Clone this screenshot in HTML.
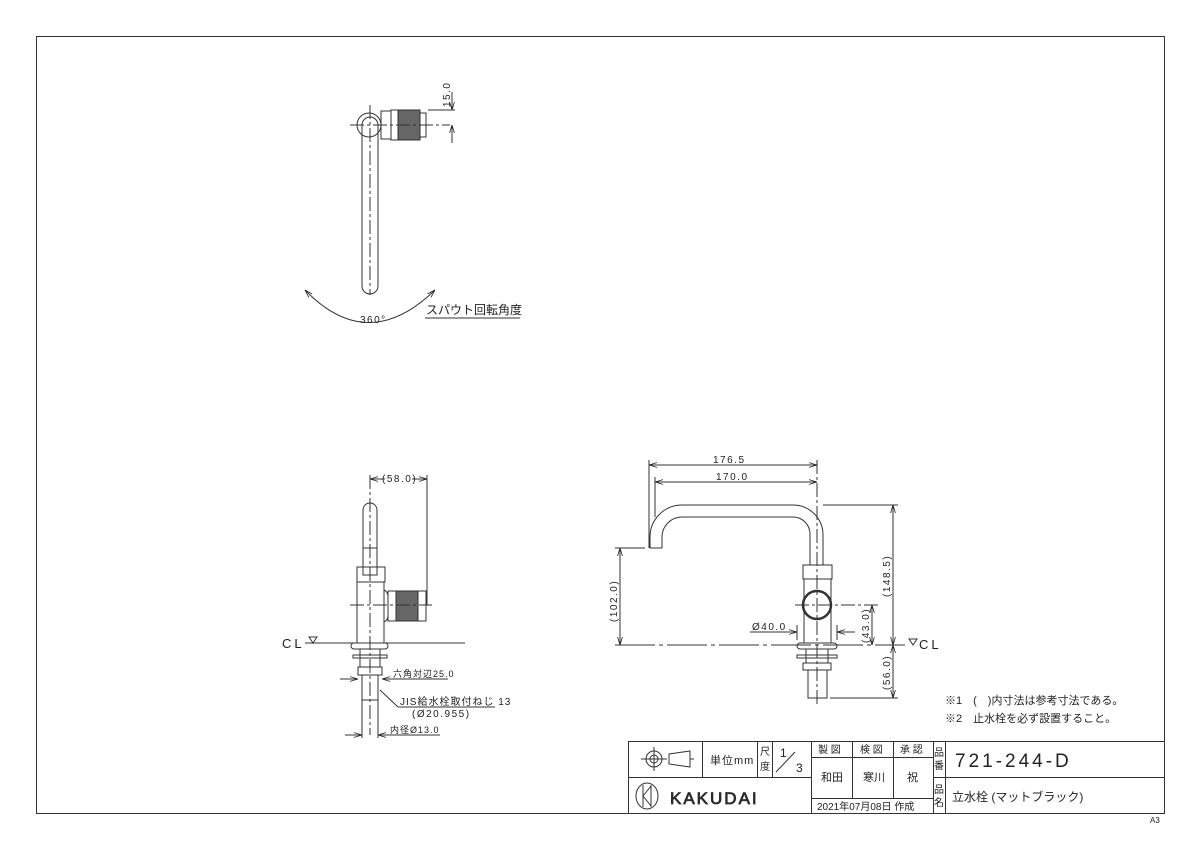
<!DOCTYPE html>
<html><head><meta charset="utf-8"><style>
body{margin:0;background:#fff}
svg{display:block}
text{font-family:"Liberation Sans","Noto Sans CJK JP",sans-serif;fill:#222}
.d{letter-spacing:1.5px}
</style></head><body>
<svg width="1200" height="849" viewBox="0 0 1200 849" xmlns="http://www.w3.org/2000/svg">
<defs>
<marker id="a" viewBox="0 0 10 10" refX="10" refY="5" markerWidth="8" markerHeight="8" orient="auto-start-reverse"><path d="M0,2 L10,5 L0,8" fill="none" stroke="#222" stroke-width="1"/></marker>
</defs>
<g fill="none" stroke="#333" stroke-width="1">
<rect x="36.5" y="36.5" width="1128" height="777"/>

<!-- TOP VIEW -->
<circle cx="369" cy="125" r="12"/>
<path d="M362,125 V286 A8,8 0 0 0 378,286 V125 A8,8 0 0 0 362,125"/>
<rect x="381" y="111" width="10" height="28"/>
<rect x="398" y="110" width="22" height="30" fill="#666"/>
<rect x="391" y="110" width="7" height="30"/>
<rect x="420" y="113" width="6" height="24"/>
<line x1="350" y1="125" x2="450" y2="125" stroke-dasharray="14,3,3,3"/>
<line x1="370" y1="105" x2="370" y2="295" stroke-dasharray="14,3,3,3"/>
<line x1="428" y1="110" x2="455" y2="110"/>
<line x1="452" y1="92" x2="452" y2="110" marker-end="url(#a)"/>
<line x1="452" y1="143" x2="452" y2="125" marker-end="url(#a)"/>
<path d="M305,290 Q368,355 435,290" marker-start="url(#a)" marker-end="url(#a)"/>
<line x1="425" y1="318" x2="520" y2="318"/>

<!-- SIDE VIEW -->
<path d="M363,567 V510 A7,7 0 0 1 377,510 V567"/>
<line x1="363" y1="548" x2="377" y2="548"/>
<rect x="357" y="567" width="28" height="15"/>
<rect x="363" y="567" width="14" height="8"/>
<path d="M357,582 V643 M384,582 V643"/>
<path d="M384,590 Q388,592 388,596 V616 Q388,620 384,622"/>
<rect x="388" y="591" width="8" height="30"/>
<rect x="396" y="591" width="22" height="30" fill="#666"/>
<rect x="418" y="591" width="8" height="30"/>
<line x1="350" y1="605" x2="432" y2="605" stroke-dasharray="14,3,3,3"/>
<line x1="370" y1="475" x2="370" y2="735" stroke-dasharray="14,3,3,3"/>
<line x1="305" y1="643" x2="465" y2="643"/>
<rect x="351" y="643" width="37" height="6" rx="3"/>
<rect x="360" y="649" width="20" height="18"/>
<rect x="353" y="655" width="34" height="3"/>
<rect x="358" y="667" width="24" height="8"/>
<rect x="362" y="675" width="16" height="25"/>
<line x1="427" y1="475" x2="427" y2="605"/>
<line x1="385" y1="479" x2="370" y2="479" marker-end="url(#a)"/>
<line x1="412" y1="479" x2="427" y2="479" marker-end="url(#a)"/>
<line x1="340" y1="679" x2="358" y2="679" marker-end="url(#a)"/>
<line x1="400" y1="679" x2="382" y2="679" marker-end="url(#a)"/>
<line x1="382" y1="679" x2="448" y2="679"/>
<path d="M398,707 L380,690 M398,707 L495,707"/>
<line x1="362" y1="700" x2="362" y2="738"/>
<line x1="378" y1="700" x2="378" y2="738"/>
<line x1="345" y1="735" x2="362" y2="735" marker-end="url(#a)"/>
<line x1="395" y1="735" x2="378" y2="735" marker-end="url(#a)"/>
<line x1="378" y1="735" x2="440" y2="735"/>
<path d="M309,637 L317,637 L313,643 Z"/>

<!-- FRONT VIEW -->
<path d="M650,548 V537 A32,32 0 0 1 682,505 H793 A30,30 0 0 1 823,535 V565"/>
<path d="M662,548 V537 A20,20 0 0 1 682,517 H793 A17,17 0 0 1 810,534 V565"/>
<line x1="650" y1="548" x2="662" y2="548"/>
<rect x="803" y="565" width="29" height="14"/>
<path d="M804,579 V643 M831,579 V643"/>
<circle cx="817" cy="605" r="14" stroke-width="2.5"/>
<rect x="797" y="643" width="40" height="6" rx="3"/>
<rect x="806" y="649" width="22" height="14"/>
<rect x="797" y="655" width="40" height="3"/>
<rect x="803" y="663" width="28" height="7"/>
<rect x="808" y="670" width="19" height="28"/>
<line x1="817" y1="460" x2="817" y2="705" stroke-dasharray="14,3,3,3"/>
<line x1="615" y1="645" x2="905" y2="645" stroke-dasharray="40,4,4,4"/>
<line x1="795" y1="605" x2="880" y2="605" stroke-dasharray="14,3,3,3"/>
<line x1="649" y1="460" x2="649" y2="548"/>
<line x1="655" y1="477" x2="655" y2="517"/>
<line x1="649" y1="465" x2="817" y2="465" marker-start="url(#a)" marker-end="url(#a)"/>
<line x1="655" y1="482" x2="817" y2="482" marker-start="url(#a)" marker-end="url(#a)"/>
<line x1="823" y1="505" x2="898" y2="505"/>
<line x1="830" y1="698" x2="898" y2="698"/>
<line x1="893" y1="505" x2="893" y2="645" marker-start="url(#a)" marker-end="url(#a)"/>
<line x1="893" y1="645" x2="893" y2="698" marker-start="url(#a)" marker-end="url(#a)"/>
<line x1="615" y1="548" x2="645" y2="548"/>
<line x1="620" y1="548" x2="620" y2="645" marker-start="url(#a)" marker-end="url(#a)"/>
<line x1="872" y1="605" x2="872" y2="645" marker-start="url(#a)" marker-end="url(#a)"/>
<line x1="797" y1="625" x2="797" y2="640"/>
<line x1="837" y1="625" x2="837" y2="640"/>
<line x1="750" y1="632" x2="797" y2="632" marker-end="url(#a)"/>
<line x1="855" y1="632" x2="837" y2="632" marker-end="url(#a)"/>
<path d="M909,639 L917,639 L913,645 Z"/>

<!-- TITLE BLOCK -->
<rect x="628.5" y="741.5" width="536" height="72"/>
<line x1="628" y1="777.5" x2="811" y2="777.5"/>
<line x1="933" y1="777.5" x2="1164" y2="777.5"/>
<line x1="702.5" y1="741" x2="702.5" y2="777"/>
<line x1="757.5" y1="741" x2="757.5" y2="777"/>
<line x1="772.5" y1="741" x2="772.5" y2="777"/>
<line x1="811.5" y1="741" x2="811.5" y2="814"/>
<line x1="852.5" y1="741" x2="852.5" y2="798"/>
<line x1="893.5" y1="741" x2="893.5" y2="798"/>
<line x1="933.5" y1="741" x2="933.5" y2="814"/>
<line x1="945.5" y1="741" x2="945.5" y2="814"/>
<line x1="811" y1="757.5" x2="933" y2="757.5"/>
<line x1="811" y1="798.5" x2="933" y2="798.5"/>
<line x1="776" y1="772" x2="795" y2="752"/>
<circle cx="654" cy="759" r="8"/><circle cx="654" cy="759" r="4"/>
<line x1="641" y1="759" x2="667" y2="759"/><line x1="654" y1="747" x2="654" y2="771"/>
<path d="M669,754 L690,751 L690,767 L669,764 Z M690,759 H694"/>
<ellipse cx="647" cy="796" rx="11" ry="13"/>
<path d="M643,785 V807 M651,785 V807 M643,796 L651,786 M643,796 L651,806"/>
</g>

<g font-size="10">
<text class="d" transform="translate(450,107) rotate(-90)">15.0</text>
<text class="d" x="360" y="323">360°</text>
<text x="426" y="314" font-size="12">スパウト回転角度</text>
<text class="d" x="382" y="482">(58.0)</text>
<text x="282" y="648" font-size="13" letter-spacing="3">CL</text>
<text x="393" y="677" font-size="9" letter-spacing="1">六角対辺25.0</text>
<text x="400" y="705" letter-spacing="1">JIS給水栓取付ねじ 13</text>
<text class="d" x="412" y="717">(Ø20.955)</text>
<text x="390" y="733" font-size="9" letter-spacing="1">内径Ø13.0</text>
<text class="d" x="713" y="463">176.5</text>
<text class="d" x="716" y="480">170.0</text>
<text class="d" x="752" y="630">Ø40.0</text>
<text x="919" y="649" font-size="13" letter-spacing="3">CL</text>
<text class="d" transform="translate(890,597) rotate(-90)">(148.5)</text>
<text class="d" transform="translate(890,690) rotate(-90)">(56.0)</text>
<text class="d" transform="translate(617,622) rotate(-90)">(102.0)</text>
<text class="d" transform="translate(869,643) rotate(-90)">(43.0)</text>
<text x="945" y="704" font-size="11">※1　(　)内寸法は参考寸法である。</text>
<text x="945" y="722" font-size="11">※2　止水栓を必ず設置すること。</text>
<text x="710" y="764" font-size="11" letter-spacing="1">単位mm</text>
<text x="760" y="755" font-size="10">尺</text><text x="760" y="770" font-size="10">度</text>
<text x="780" y="757" font-size="12">1</text><text x="796" y="772" font-size="12">3</text>
<text x="818" y="753" font-size="10">製 図</text>
<text x="860" y="753" font-size="10">検 図</text>
<text x="900" y="753" font-size="10">承 認</text>
<text x="821" y="781" font-size="11">和田</text>
<text x="863" y="781" font-size="11">寒川</text>
<text x="907" y="781" font-size="11">祝</text>
<text x="934" y="756" font-size="10">品</text><text x="934" y="769" font-size="10">番</text>
<text x="934" y="793" font-size="10">品</text><text x="934" y="806" font-size="10">名</text>
<text x="955" y="767" font-size="19" letter-spacing="3">721-244-D</text>
<text x="952" y="801" font-size="12">立水栓 (マットブラック)</text>
<text x="817" y="810" font-size="10">2021年07月08日 作成</text>
<text x="670" y="804" font-size="17" letter-spacing="2" fill="none" stroke="#333" stroke-width="0.8">KAKUDAI</text>
<text x="1150" y="823" font-size="8">A3</text>
</g>
</svg>
</body></html>
